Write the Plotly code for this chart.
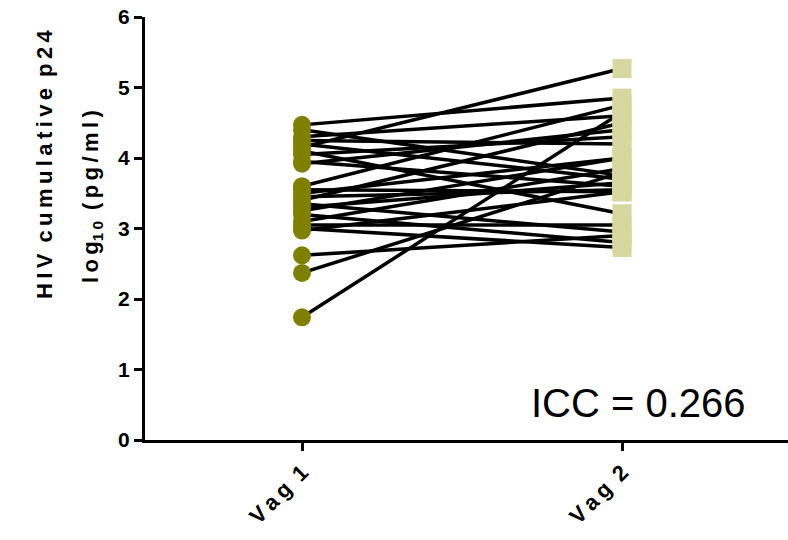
import plotly.graph_objects as go

categories = ["Vag 1", "Vag 2"]
vag1 = [4.47, 4.40, 4.30, 4.25, 4.20, 4.15, 4.10, 4.05, 3.95, 3.92,
        3.60, 3.55, 3.50, 3.45, 3.40, 3.35, 3.30, 3.25, 3.20, 3.10,
        3.05, 3.00, 2.97, 2.62, 2.37, 1.74]
vag2 = [4.85, 3.75, 4.60, 4.20, 3.70, 5.27, 3.21, 4.30, 3.60, 4.40,
        4.75, 3.52, 4.00, 3.55, 4.50, 2.95, 3.65, 4.00, 2.80, 3.85,
        3.05, 2.73, 3.52, 2.90, 3.80, 4.65]
y_ticks = [0, 1, 2, 3, 4, 5, 6]
icc_text = "ICC = 0.266"
title_line1 = "HIV cumulative p24"
title_line2_a = "log"
title_line2_sub = "10"
title_line2_b = "(pg/ml)"

LS = "\u2009"  # thin space for letter spacing
WS = "\u2002"  # en space between words


def spaced(s):
    return WS.join(LS.join(w) for w in s.split(" "))


xs, ys = [], []
for a, b in zip(vag1, vag2):
    xs += [0, 1, None]
    ys += [a, b, None]

fig = go.Figure()
fig.add_trace(go.Scatter(x=xs, y=ys, mode="lines",
                         line=dict(color="black", width=3.5),
                         hoverinfo="skip", showlegend=False))
fig.add_trace(go.Scatter(x=[0] * len(vag1), y=vag1, mode="markers",
                         marker=dict(symbol="circle", size=18, color="#808000"),
                         showlegend=False))
fig.add_trace(go.Scatter(x=[1] * len(vag2), y=vag2, mode="markers",
                         marker=dict(symbol="square", size=19, color="#d8d7a0"),
                         showlegend=False))

fig.add_annotation(x=1.05, y=0.52, xref="x", yref="y", text=icc_text,
                   showarrow=False, font=dict(family="Liberation Sans, Arial", size=40, color="black"))

title_font = dict(family="Liberation Sans, Arial", size=22, color="black")
fig.add_annotation(x=45, y=164, xref="paper", yref="paper",
                   text=f"<b>{spaced(title_line1)}</b>",
                   showarrow=False, textangle=-90, font=title_font)
fig.add_annotation(x=92, y=197, xref="paper", yref="paper",
                   text=f"<b>{spaced(title_line2_a)}<sub>{spaced(title_line2_sub)}</sub>{WS}{spaced(title_line2_b)}</b>",
                   showarrow=False, textangle=-90, font=title_font)

tick_font = dict(family="Liberation Sans, Arial", size=21, color="black")
fig.update_layout(
    width=788, height=540,
    margin=dict(l=145, r=0, t=17, b=100),
    plot_bgcolor="white", paper_bgcolor="white",
    xaxis=dict(range=[-157 / 320, 1 + 166 / 320], tickvals=[0, 1],
               ticktext=[f"<b>{spaced(c)}</b>" for c in categories],
               tickangle=-45, showgrid=False, zeroline=False, showline=True, linecolor="black", linewidth=3,
               ticks="outside", ticklen=8, tickwidth=3, tickcolor="black",
               tickfont=dict(family="Liberation Sans, Arial", size=22, color="black")),
    yaxis=dict(range=[0, 6], tickvals=y_ticks, ticktext=[f"<b>{t}</b>" for t in y_ticks],
               showgrid=False, zeroline=False, showline=True, linecolor="black", linewidth=3,
               ticks="outside", ticklen=8, tickwidth=3, tickcolor="black",
               tickfont=tick_font),
)

# convert pixel annotation positions to paper coords
for ann in fig.layout.annotations:
    if ann.xref == "paper":
        px, py = ann.x, ann.y
        ann.x = (px - 145) / 643
        ann.y = (440 - py) / 423
        ann.xanchor = "center"
        ann.yanchor = "middle"

fig.write_html("out.html")
